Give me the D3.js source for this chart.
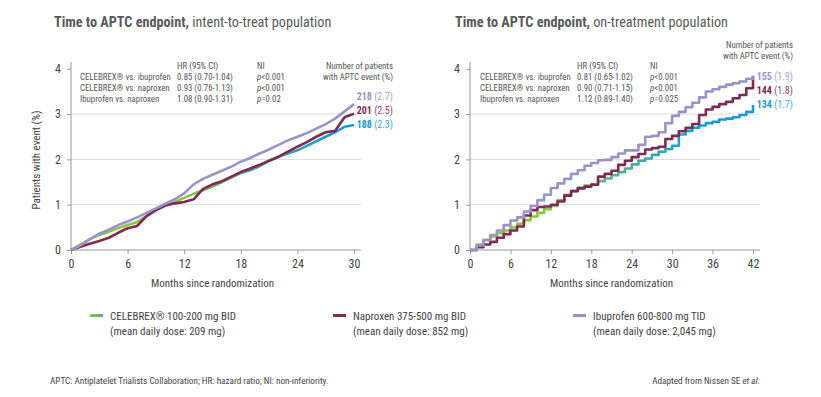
<!DOCTYPE html>
<html>
<head>
<meta charset="utf-8">
<script src="https://cdn.jsdelivr.net/npm/d3@7"></script>
<style>
  body { margin: 0; background: #fff; }
  svg text { font-family: "Liberation Sans Narrow", "Roboto Condensed", "Liberation Sans", sans-serif; fill: #555; }
</style>
</head>
<body>
<svg id="chart" width="821" height="397"></svg>
<script>
// months for each panel
const months_itt = d3.range(0, 31);
const months_ot = d3.range(0, 43);

// intent-to-treat, % patients with event
const itt_celebrex = [0, 0.12, 0.24, 0.33, 0.4, 0.48, 0.55, 0.62, 0.75, 0.88, 0.98, 1.06, 1.15, 1.24, 1.32, 1.4, 1.5, 1.6, 1.7, 1.76, 1.85, 1.97, 2.06, 2.13, 2.2, 2.3, 2.4, 2.5, 2.6, 2.72, 2.76];
const itt_naproxen = [0, 0.07, 0.14, 0.2, 0.27, 0.38, 0.48, 0.53, 0.75, 0.88, 0.98, 1.03, 1.06, 1.12, 1.35, 1.45, 1.52, 1.62, 1.72, 1.8, 1.88, 1.97, 2.06, 2.17, 2.28, 2.38, 2.5, 2.6, 2.63, 2.93, 3.01];
const itt_ibuprofen = [0, 0.1, 0.24, 0.36, 0.45, 0.55, 0.63, 0.72, 0.82, 0.92, 1.02, 1.12, 1.25, 1.45, 1.57, 1.66, 1.75, 1.84, 1.95, 2.03, 2.13, 2.22, 2.32, 2.42, 2.5, 2.58, 2.68, 2.78, 2.9, 3.06, 3.22];

// on-treatment
const ot_celebrex = [0, 0.12, 0.22, 0.3, 0.37, 0.43, 0.5, 0.58, 0.66, 0.74, 0.82, 0.9, 0.97, 1.1, 1.22, 1.3, 1.38, 1.42, 1.45, 1.52, 1.58, 1.65, 1.72, 1.8, 1.89, 1.97, 2.02, 2.1, 2.17, 2.23, 2.3, 2.55, 2.63, 2.7, 2.75, 2.8, 2.83, 2.88, 2.9, 2.93, 2.98, 3.05, 3.2];
const ot_naproxen = [0, 0.06, 0.12, 0.18, 0.27, 0.35, 0.43, 0.52, 0.76, 0.88, 0.95, 0.96, 1.0, 1.07, 1.2, 1.3, 1.36, 1.4, 1.44, 1.62, 1.68, 1.75, 1.88, 1.97, 2.05, 2.12, 2.22, 2.25, 2.28, 2.45, 2.52, 2.62, 2.7, 2.78, 2.98, 3.1, 3.16, 3.22, 3.27, 3.35, 3.42, 3.57, 3.84];
const ot_ibuprofen = [0, 0.1, 0.22, 0.33, 0.43, 0.55, 0.65, 0.72, 0.85, 0.97, 1.1, 1.22, 1.37, 1.47, 1.57, 1.68, 1.76, 1.86, 1.92, 1.98, 1.99, 2.05, 2.13, 2.2, 2.2, 2.32, 2.5, 2.52, 2.6, 2.8, 2.96, 3.05, 3.15, 3.25, 3.37, 3.5, 3.55, 3.6, 3.65, 3.68, 3.72, 3.78, 3.85];

const y_ticks = [0, 1, 2, 3, 4];
const itt_ticks = [0, 6, 12, 18, 24, 30];
const ot_ticks = [0, 6, 12, 18, 24, 30, 36, 42];

const table_rows = ["CELEBREX® vs. ibuprofen", "CELEBREX® vs. naproxen", "Ibuprofen vs. naproxen"];
const itt_hr = ["0.85 (0.70-1.04)", "0.93 (0.76-1.13)", "1.08 (0.90-1.31)"];
const itt_ni = ["<0.001", "<0.001", "=0.02"];
const ot_hr = ["0.81 (0.65-1.02)", "0.90 (0.71-1.15)", "1.12 (0.89-1.40)"];
const ot_ni = ["<0.001", "<0.001", "=0.025"];

const itt_counts = [["218", "(2.7)"], ["201", "(2.5)"], ["188", "(2.3)"]];
const ot_counts = [["155", "(1.9)"], ["144", "(1.8)"], ["134", "(1.7)"]];

const legend_names = ["CELEBREX® 100-200 mg BID", "Naproxen 375-500 mg BID", "Ibuprofen 600-800 mg TID"];
const legend_doses = ["(mean daily dose: 209 mg)", "(mean daily dose: 852 mg)", "(mean daily dose: 2,045 mg)"];

const col = {
  purple: "#9a93c8",
  maroon: "#7e2a52",
  blue: "#1b9bd1",
  teal: "#4fae96",
  green: "#8cc641",
};

const svg = d3.select('#chart');
svg.append('rect').attr('width', 821).attr('height', 397).attr('fill', "#fff");
const defs = svg.append('defs');

function panel(o) {
  const g = svg.append('g');

  const x = d3.scaleLinear().domain([0, o.xmax]).range([o.x0, o.x1]);
  const y = d3.scaleLinear().domain([0, 4]).range([250, 68.8]);

  // title
  const t = g.append('text')
        .attr('x', o.tx).attr('y', 27)
        .attr('font-size', 14.2).style('fill', "#58595b");
  t.append('tspan').attr('font-weight', "bold").text("Time to APTC endpoint,");
  t.append('tspan').text(" " + o.title);

  // gridlines
  g.selectAll('line.grid')
    .data([1, 2, 3]).enter()
    .append('line')
    .attr('x1', o.x0).attr('x2', o.x1 + 7)
    .attr('y1', d => y(d)).attr('y2', d => y(d))
    .attr('stroke', "#dcdcdc").attr('stroke-width', 1);

  // axes
  const ax = g.append('g').attr('transform', `translate(0,250)`)
        .call(d3.axisBottom(x).tickValues(o.ticks).tickSize(4).tickPadding(5));
  ax.select('.domain').attr('d', `M${o.x0},0H${o.x1 + 7}`);
  const ay = g.append('g').attr('transform', `translate(${o.x0},0)`)
        .call(d3.axisLeft(y).tickValues(y_ticks).tickFormat(d3.format("d"))
              .tickSize(4).tickPadding(6));
  ay.select('.domain').attr('d', `M0,62V250`);

  [ax, ay].forEach(a => {
    a.selectAll('path, line').attr('stroke', "#999");
    a.selectAll('text').attr('font-size', 12).style('fill', "#444")
      .style('font-family', null);
  });

  g.append('text')
    .attr('x', (o.x0 + o.x1) / 2).attr('y', 287)
    .attr('text-anchor', "middle").attr('font-size', 11)
    .style('fill', "#444")
    .text("Months since randomization");

  // celebrex gradient along x
  const grad = defs.append('linearGradient')
        .attr('id', o.id + "-grad")
        .attr('gradientUnits', "userSpaceOnUse")
        .attr('x1', x(0)).attr('x2', x(o.xmax)).attr('y1', 0).attr('y2', 0);
  grad.selectAll('stop')
    .data([[0, col.green], [o.gstops[0], col.green], [o.gstops[1], col.teal], [o.gstops[2], col.blue], [1, col.blue]])
    .enter().append('stop')
    .attr('offset', d => d[0]).attr('stop-color', d => d[1]);

  const line = d3.line()
        .x((d, i) => x(o.months[i]))
        .y(d => y(d))
        .curve(o.curve);

  const series = [
    { v: o.celebrex, c: `url(#${o.id}-grad)` },
    { v: o.naproxen, c: col.maroon },
    { v: o.ibuprofen, c: col.purple },
  ];

  g.selectAll('path.km')
    .data(series).enter()
    .append('path')
    .attr('class', "km")
    .attr('d', d => line(d.v))
    .attr('fill', "none")
    .attr('stroke', d => d.c)
    .attr('stroke-width', 2.6)
    .attr('stroke-linejoin', "round");

  // comparison table
  const tb = g.append('g').attr('font-size', 8.8);
  tb.append('text').attr('x', o.hx).attr('y', o.ty).text("HR (95% CI)");
  tb.append('text').attr('x', o.nx).attr('y', o.ty).text("NI");
  table_rows.forEach((r, i) => {
    const yy = o.ty + 11 * (i + 1);
    tb.append('text').attr('x', o.rx).attr('y', yy).text(r);
    tb.append('text').attr('x', o.hx).attr('y', yy).text(o.hr[i]);
    const p = tb.append('text').attr('x', o.nx).attr('y', yy);
    p.append('tspan').attr('font-style', "italic").text("p");
    p.append('tspan').text(o.ni[i]);
  });

  // count labels
  g.append('text').attr('x', o.cx).attr('y', o.cy)
    .attr('text-anchor', "end").attr('font-size', 8.8).text("Number of patients");
  g.append('text').attr('x', o.cx).attr('y', o.cy + 11)
    .attr('text-anchor', "end").attr('font-size', 8.8).text("with APTC event (%)");

  const ccol = [col.purple, col.maroon, col.blue];
  o.counts.forEach((c, i) => {
    const lt = g.append('text').attr('x', o.cx).attr('y', o.ly[i])
          .attr('text-anchor', "end").attr('font-size', 10);
    lt.append('tspan').attr('font-weight', "bold").style('fill', ccol[i]).text(c[0] + " ");
    lt.append('tspan').style('fill', ccol[i]).attr('opacity', 0.85).text(c[1]);
  });

  return g;
}

panel({
  id: "itt", xmax: 30, x0: 71, x1: 354, tx: 54,
  title: "intent-to-treat population",
  ticks: itt_ticks, months: months_itt, curve: d3.curveLinear,
  celebrex: itt_celebrex, naproxen: itt_naproxen, ibuprofen: itt_ibuprofen,
  gstops: [0.4, 0.62, 0.9],
  rx: 80, hx: 177, nx: 257, ty: 69,
  hr: itt_hr, ni: itt_ni,
  cx: 393, cy: 69, ly: [100, 114, 128], counts: itt_counts,
});

panel({
  id: "ot", xmax: 42, x0: 470, x1: 753, tx: 455,
  title: "on-treatment population",
  ticks: ot_ticks, months: months_ot, curve: d3.curveStepAfter,
  celebrex: ot_celebrex, naproxen: ot_naproxen, ibuprofen: ot_ibuprofen,
  gstops: [0.3, 0.55, 0.78],
  rx: 480, hx: 577, nx: 650, ty: 69,
  hr: ot_hr, ni: ot_ni,
  cx: 793, cy: 48, ly: [80, 94, 108], counts: ot_counts,
});

// y axis title (left panel only)
svg.append('text')
  .attr('transform', "translate(40,160) rotate(-90)")
  .attr('text-anchor', "middle").attr('font-size', 11)
  .style('fill', "#444")
  .text("Patients with event (%)");

// legend
const lx = [90, 333, 573];
const lg = svg.append('g');
const lgrad = defs.append('linearGradient').attr('id', "leg-grad");
lgrad.append('stop').attr('offset', 0).attr('stop-color', col.green);
lgrad.append('stop').attr('offset', 1).attr('stop-color', col.teal);
const lcol = ["url(#leg-grad)", col.maroon, col.purple];

legend_names.forEach((n, i) => {
  lg.append('rect')
    .attr('x', lx[i]).attr('y', 314).attr('width', 13).attr('height', 3)
    .attr('fill', lcol[i]);
  lg.append('text').attr('x', lx[i] + 20).attr('y', 320)
    .attr('font-size', 11).style('fill', "#444").text(n);
  lg.append('text').attr('x', lx[i] + 20).attr('y', 335)
    .attr('font-size', 11).style('fill', "#444").text(legend_doses[i]);
});

// footnotes
svg.append('text').attr('x', 50).attr('y', 384)
  .attr('font-size', 9.2).style('fill', "#444")
  .text("APTC: Antiplatelet Trialists Collaboration; HR: hazard ratio; NI: non-inferiority.");

const src = svg.append('text').attr('x', 760).attr('y', 384)
      .attr('text-anchor', "end").attr('font-size', 9.2).style('fill', "#444");
src.append('tspan').text("Adapted from Nissen SE ");
src.append('tspan').attr('font-style', "italic").text("et al.");
</script>
</body>
</html>
